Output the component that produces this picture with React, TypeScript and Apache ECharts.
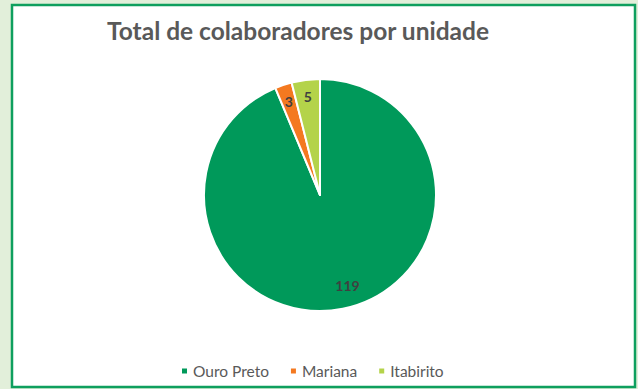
import React, { useEffect, useRef } from "react";
import * as echarts from "echarts";

const categories = ["Ouro Preto", "Mariana", "Itabirito"];
const values = [119, 3, 5];
const colors = ["#00995A", "#F47920", "#B4D34A"];
const titleText = "Total de colaboradores por unidade";

export default function App() {
  const ref = useRef<HTMLDivElement>(null);
  useEffect(() => {
    if (!ref.current) return;
    const chart = echarts.init(ref.current, null, { renderer: "svg" });
    const data = categories.map((name, i) => ({ name, value: values[i] }));
    const labelData = categories.map((name, i) => ({
      name,
      value: values[i],
      label: i === 0 ? { offset: [8, -7] } : {},
    }));
    chart.setOption({
      animation: false,
      backgroundColor: "#E2EFDA",
      color: colors,
      title: {
        text: titleText,
        left: 102,
        top: 13,
        textStyle: {
          fontFamily: "Lato",
          fontWeight: "bold",
          fontSize: 24.5,
          color: "#595959",
        },
      },
      graphic: [
        {
          type: "rect",
          z: -10,
          shape: { x: 12, y: 5, width: 623, height: 382 },
          style: { fill: "#ffffff", stroke: "#0E9F5E", lineWidth: 2.5 },
        },
      ],
      legend: {
        top: 358,
        left: 175,
        itemWidth: 7,
        itemHeight: 7,
        itemGap: 20,
        icon: "rect",
        textStyle: { fontFamily: "Lato", fontSize: 15.5, color: "#595959" },
        data: categories,
      },
      series: [
        {
          type: "pie",
          center: [320, 195],
          radius: [0, 116],
          startAngle: 90,
          clockwise: true,
          label: { show: false },
          labelLine: { show: false },
          itemStyle: { borderColor: "#ffffff", borderWidth: 2 },
          emphasis: { disabled: true },
          data,
        },
        {
          type: "pie",
          center: [320, 195],
          radius: [76, 116],
          startAngle: 90,
          clockwise: true,
          silent: true,
          itemStyle: { color: "rgba(0,0,0,0)" },
          label: {
            show: true,
            position: "inside",
            formatter: "{c}",
            fontFamily: "Lato",
            fontWeight: "bold",
            fontSize: 14,
            color: "#404040",
          },
          labelLine: { show: false },
          emphasis: { disabled: true },
          data: labelData,
        },
      ],
    });
    return () => chart.dispose();
  }, []);
  return (
    <div
      ref={ref}
      style={{ position: "fixed", left: 0, top: 0, width: 638, height: 389 }}
    />
  );
}
